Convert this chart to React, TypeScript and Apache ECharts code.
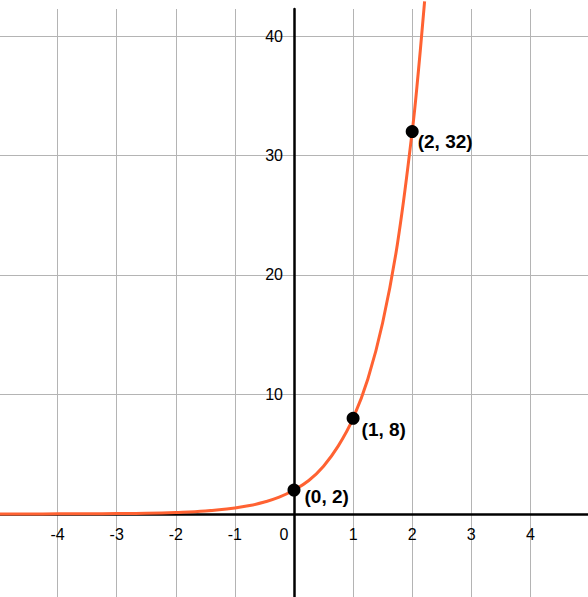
import { useEffect, useRef } from 'react';
import * as echarts from 'echarts';

// curve samples
const curveX = [-4.975, -4.5, -4, -3.5, -3, -2.5, -2, -1.5, -1, -0.75, -0.5, -0.25, 0, 0.25, 0.5, 0.75, 1, 1.25, 1.5, 1.75, 2, 2.1, 2.21];
const curveY = [0.002, 0.004, 0.008, 0.016, 0.03, 0.06, 0.13, 0.25, 0.5, 0.7, 1, 1.4, 2, 2.8, 4, 5.7, 8, 11.3, 16, 22.6, 32, 36.8, 42.9];

const pointX = [0, 1, 2];
const pointY = [2, 8, 32];
const pointLabels = ['(0, 2)', '(1, 8)', '(2, 32)'];

const xTicks = [-4, -3, -2, -1, 0, 1, 2, 3, 4];
const xLabels = [-4, -3, -2, -1, 0, 1, 2, 3, 4];
const yTicks = [0, 10, 20, 30, 40];
const yLabels = [10, 20, 30, 40];

const X_MIN = -4.975;
const X_MAX = 4.975;
const Y_MIN = -6.95;
const Y_MAX = 42.26;

const W = 588;
const H = 597;
const TOP = 9;

const FONT = '"Liberation Sans", Helvetica, Arial, sans-serif';
// label nudges so the text sits like the reference
const labelOffsets = [[0, 6], [-2, 11], [-5, 10]];

export default function App() {
  const ref = useRef<HTMLDivElement>(null);

  useEffect(() => {
    if (!ref.current) return;
    const chart = echarts.init(ref.current, undefined, { renderer: 'svg' });
    // axis lines cross at zero: shift them (with their labels) into the plot
    const plotH = H - TOP;
    const xOffset = -(plotH * (0 - Y_MIN)) / (Y_MAX - Y_MIN);
    const yOffset = -(W * (0 - X_MIN)) / (X_MAX - X_MIN);
    chart.setOption({
      animation: false,
      grid: { left: 0, right: 0, top: TOP, bottom: 0, containLabel: false, outerBoundsMode: 'none' },
      xAxis: {
        type: 'value',
        position: 'bottom',
        offset: xOffset,
        min: X_MIN,
        max: X_MAX,
        axisLine: { onZero: false, lineStyle: { color: '#000', width: 2.5 } },
        axisTick: { show: false, customValues: xTicks },
        axisLabel: {
          customValues: xLabels,
          margin: 13,
          fontSize: 16,
          fontFamily: FONT,
          color: '#000',
          formatter: (v: number) => (v === 0 ? '{z|0}' : String(v)),
          rich: { z: { fontSize: 16, fontFamily: FONT, color: '#000', padding: [0, 20, 0, 0] } },
        },
        splitLine: { show: true, lineStyle: { color: '#b4b4b4', width: 1 } },
      },
      yAxis: {
        type: 'value',
        position: 'left',
        offset: yOffset,
        min: Y_MIN,
        max: Y_MAX,
        axisLine: { onZero: false, lineStyle: { color: '#000', width: 2.5 } },
        axisTick: { show: false, customValues: yTicks },
        axisLabel: {
          customValues: yLabels,
          margin: 11,
          fontSize: 16,
          fontFamily: FONT,
          color: '#000',
        },
        splitLine: { show: true, lineStyle: { color: '#b4b4b4', width: 1 } },
      },
      series: [
        {
          type: 'line',
          data: curveX.map((x, i) => [x, curveY[i]]),
          smooth: 0.4,
          showSymbol: false,
          clip: false,
          lineStyle: { color: '#ff6232', width: 3 },
          z: 3,
        },
        {
          type: 'scatter',
          symbolSize: 13,
          itemStyle: { color: '#000', opacity: 1 },
          z: 4,
          data: pointX.map((x, i) => ({
            value: [x, pointY[i]],
            label: {
              show: true,
              position: 'right',
              distance: 4,
              offset: labelOffsets[i],
              formatter: pointLabels[i],
              fontSize: 19,
              fontWeight: 'bold',
              fontFamily: FONT,
              color: '#000',
              opacity: 1,
            },
          })),
        },
      ],
    });
    return () => chart.dispose();
  }, []);

  return (
    <div
      ref={ref}
      style={{ position: 'fixed', left: 0, top: 0, width: W, height: H, background: '#fff' }}
    />
  );
}
